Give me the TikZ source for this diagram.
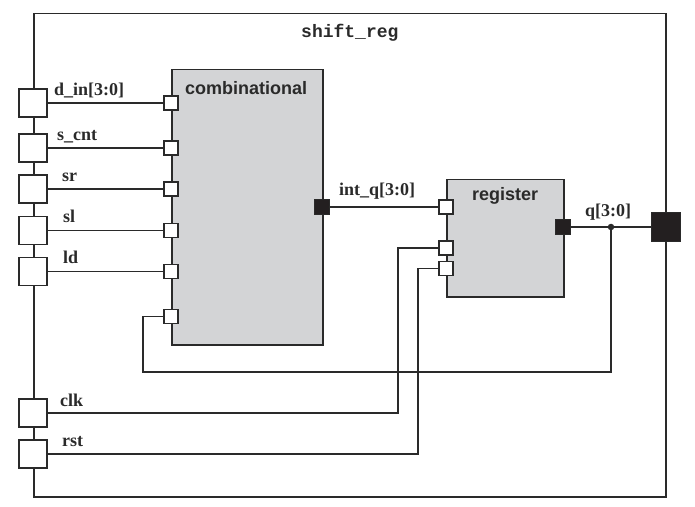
\documentclass[tikz,border=0pt]{standalone}
\usepackage{fontspec}
\setmainfont{Liberation Serif}
\setsansfont{Liberation Sans}
\setmonofont{Liberation Mono}
\definecolor{ink}{HTML}{2A2A2A}
\definecolor{blockgray}{HTML}{D3D4D6}
\definecolor{portblack}{HTML}{231F20}
\tikzset{
  wire/.style={draw=ink, line width=1.2bp},
  bus/.style={draw=ink, line width=1.9bp},
  lport/.style={draw=ink, line width=1.2bp, fill=white, minimum size=28bp, inner sep=0pt},
  sport/.style={draw=ink, line width=1.2bp, fill=white, minimum size=14bp, inner sep=0pt},
  bport/.style={draw=ink, line width=1bp, fill=portblack, minimum size=15bp, inner sep=0pt},
  block/.style={draw=ink, line width=1.5bp, fill=blockgray, inner sep=0pt, anchor=north west},
  sig/.style={font=\fontsize{18bp}{20bp}\selectfont\bfseries, anchor=base west, inner sep=0pt, text=ink},
  title/.style={font=\fontsize{18bp}{20bp}\selectfont\sffamily\bfseries, anchor=base west, inner sep=0pt, text=ink},
  dotnode/.style={circle, fill=ink, minimum size=6.5bp, inner sep=0pt}
}
\begin{document}
\begin{tikzpicture}[x=1bp, y=-1bp]
\useasboundingbox (0,0) rectangle (695,507);
% outer module
\node[draw=ink, line width=1.5bp, minimum width=632bp, minimum height=483bp, inner sep=0pt, anchor=north west] (outer) at (33,13) {};
\node[font=\fontsize{18bp}{20bp}\selectfont\ttfamily\bfseries, anchor=base west, inner sep=0pt, text=ink] (modname) at (301,37.7) {shift\_reg};
% blocks
\node[block, minimum width=151bp, minimum height=275bp] (comb) at (171,69) {};
\node[title] (combname) at (185,94.3) {combinational};
\node[block, minimum width=117bp, minimum height=117bp] (reg) at (446,179) {};
\node[title] (regname) at (472,200.7) {register};
% left ports
\node[lport] (pdin) at (33,103) {};
\node[lport] (pscnt) at (33,148) {};
\node[lport] (psr) at (33,189) {};
\node[lport] (psl) at (33,230.5) {};
\node[lport] (pld) at (33,271.5) {};
\node[lport] (pclk) at (33,413) {};
\node[lport] (prst) at (33,454) {};
% right port
\node[bport, minimum size=29bp] (pq) at (666,227) {};
% comb ports
\node[sport] (c1) at (171,103) {};
\node[sport] (c2) at (171,148) {};
\node[sport] (c3) at (171,189) {};
\node[sport] (c4) at (171,230.5) {};
\node[sport] (c5) at (171,271.5) {};
\node[sport] (c6) at (171,316.5) {};
\node[bport] (cout) at (322,207) {};
% register ports
\node[sport] (r1) at (446,207) {};
\node[sport] (r2) at (446,248) {};
\node[sport] (r3) at (446,268.5) {};
\node[bport] (rout) at (563,227) {};
% wires
\draw[bus] (pdin.east) -- (c1.west);
\draw[wire] (pscnt.east) -- (c2.west);
\draw[wire] (psr.east) -- (c3.west);
\draw[wire] (psl.east) -- (c4.west);
\draw[wire] (pld.east) -- (c5.west);
\draw[wire] (cout.east) -- (r1.west);
\coordinate (qj) at (611,227);
\draw[wire] (rout.east) -- (qj) -- (pq.west);
\coordinate (clkturn) at (398,413);
\coordinate (rstturn) at (418,454);
\draw[wire] (pclk.east) -- (clkturn) |- (r2.west);
\draw[wire] (prst.east) -- (rstturn) |- (r3.west);
\coordinate (fbdown) at (611,372);
\coordinate (fbleft) at (143,372);
\draw[bus] (qj) -- (fbdown) -- (fbleft) |- (c6.west);
% junction
\node[dotnode] (qdot) at (qj) {};
% labels
\node[sig] (ldin) at (54,96) {d\_in[3:0]};
\node[sig] (lscnt) at (57,140.5) {s\_cnt};
\node[sig] (lsr) at (62,181.5) {sr};
\node[sig] (lsl) at (63,223) {sl};
\node[sig] (lld) at (63,264) {ld};
\node[sig] (lclk) at (60,406) {clk};
\node[sig] (lrst) at (62,446.5) {rst};
\node[sig] (lintq) at (339,196) {int\_q[3:0]};
\node[sig] (lq) at (585,217) {q[3:0]};
\end{tikzpicture}
\end{document}
